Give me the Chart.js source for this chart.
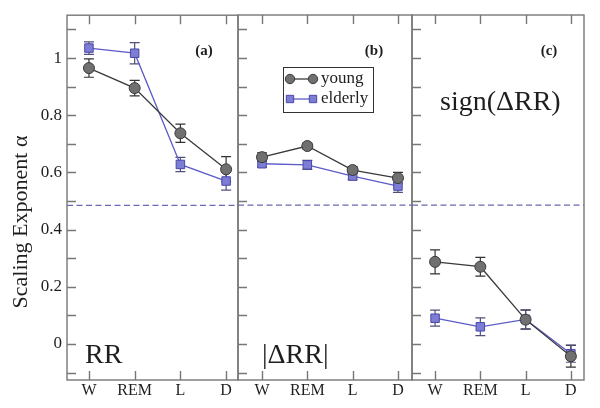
<!DOCTYPE html>
<html>
<head>
<meta charset="utf-8">
<script src="https://cdn.jsdelivr.net/npm/chart.js@4.4.1/dist/chart.umd.min.js"></script>
<style>
  html, body { margin: 0; padding: 0; background: #fff; }
  #wrap { position: relative; width: 600px; height: 408px; }
  #wrap canvas { position: absolute; left: 0; top: 0; }
</style>
</head>
<body>
<div id="wrap">
  <canvas id="panelA" width="600" height="408"></canvas>
  <canvas id="panelB" width="600" height="408"></canvas>
  <canvas id="panelC" width="600" height="408"></canvas>
</div>
<script>
/* ── Datos ─────────────────────────────── */
const categories = ['W', 'REM', 'L', 'D'];

const youngRR        = [0.965, 0.895, 0.737, 0.611];
const youngRRErr     = [0.032, 0.027, 0.032, 0.044];
const elderlyRR      = [1.035, 1.017, 0.628, 0.570];
const elderlyRRErr   = [0.022, 0.037, 0.025, 0.032];

const youngAbs       = [0.653, 0.692, 0.608, 0.580];
const youngAbsErr    = [0.015, 0.010, 0.012, 0.020];
const elderlyAbs     = [0.630, 0.626, 0.587, 0.552];
const elderlyAbsErr  = [0.012, 0.016, 0.013, 0.022];

const youngSign      = [0.287, 0.270, 0.085, -0.043];
const youngSignErr   = [0.042, 0.033, 0.033, 0.038];
const elderlySign    = [0.090, 0.060, 0.086, -0.034];
const elderlySignErr = [0.028, 0.031, 0.033, 0.030];

const yTicks      = [0, 0.2, 0.4, 0.6, 0.8, 1];
const yMinorTicks = [-0.1, 0, 0.1, 0.2, 0.3, 0.4, 0.5, 0.6, 0.7, 0.8, 0.9, 1.0, 1.1];
const dashLevel   = 0.485;

/* ── Estilo ─────────── */
const SERIF       = "'Liberation Serif', 'DejaVu Serif', serif";
const FRAME       = '#777';
const TEXT        = '#1e1e1e';
const YOUNG_LINE  = '#3a3a3a';
const YOUNG_FILL  = '#707070';
const YOUNG_EDGE  = '#3a3a3a';
const OLD_LINE    = '#5b5bc8';
const OLD_FILL    = '#7d7dd6';
const OLD_EDGE    = '#4848a8';
const DASH_COLOR  = '#6868b4';
const Y_MIN = -0.126, Y_MAX = 1.150;

const pts = arr => arr.map((v, i) => ({ x: i, y: v }));

/* marco, marcas interiores y barras de error */
const framePlugin = {
  id: 'frame',
  beforeDatasetsDraw(chart) {
    const { ctx, chartArea: a, scales: { x, y } } = chart;
    ctx.save();
    ctx.strokeStyle = FRAME;
    ctx.lineWidth = 1.4;
    ctx.strokeRect(a.left, a.top, a.right - a.left, a.bottom - a.top);
    ctx.beginPath();
    yMinorTicks.forEach(v => {
      const py = Math.round(y.getPixelForValue(v)) + 0.5;
      ctx.moveTo(a.left, py); ctx.lineTo(a.left + 9, py);
    });
    categories.forEach((c, i) => {
      const px = Math.round(x.getPixelForValue(i)) + 0.5;
      ctx.moveTo(px, a.bottom); ctx.lineTo(px, a.bottom - 9);
      ctx.moveTo(px, a.top);    ctx.lineTo(px, a.top + 9);
    });
    ctx.stroke();

    // barras de error
    chart.data.datasets.forEach((ds, di) => {
      if (!ds.errors) return;
      const meta = chart.getDatasetMeta(di);
      ctx.strokeStyle = ds.errColor;
      ctx.lineWidth = 1.2;
      ctx.beginPath();
      meta.data.forEach((pt, i) => {
        const v = ds.data[i].y, e = ds.errors[i];
        const y1 = y.getPixelForValue(v + e), y2 = y.getPixelForValue(v - e);
        ctx.moveTo(pt.x, y1); ctx.lineTo(pt.x, y2);
        ctx.moveTo(pt.x - 5, y1); ctx.lineTo(pt.x + 5, y1);
        ctx.moveTo(pt.x - 5, y2); ctx.lineTo(pt.x + 5, y2);
      });
      ctx.stroke();
    });
    ctx.restore();
  },
  afterDraw(chart) {
    const { ctx, chartArea: a } = chart;
    const t = chart.options.plugins.frame;
    ctx.save();
    ctx.fillStyle = TEXT;
    ctx.textBaseline = 'middle';
    ctx.textAlign = 'center';
    ctx.font = 'bold 15px ' + SERIF;
    ctx.fillText(t.tag, a.left + t.tagX, a.top + 36);
    ctx.textAlign = 'left';
    ctx.textBaseline = 'alphabetic';
    ctx.font = '28px ' + SERIF;
    ctx.fillText(t.name, a.left + t.nameX, t.nameY);
    if (t.yTitle) {
      ctx.translate(21, 222);
      ctx.rotate(-Math.PI / 2);
      ctx.textAlign = 'center';
      ctx.textBaseline = 'middle';
      ctx.font = '22px ' + SERIF;
      ctx.fillText(t.yTitle, 0, 0);
    }
    ctx.restore();
  }
};

/* leyenda del panel (b) */
const legendPlugin = {
  id: 'boxLegend',
  afterDraw(chart) {
    const { ctx } = chart;
    const entries = chart.data.datasets.filter(d => d.legend);
    const bx = 283, by = 67, bw = 90, bh = 45;
    ctx.save();
    ctx.fillStyle = '#fff';
    ctx.fillRect(bx, by, bw, bh);
    ctx.strokeStyle = '#333';
    ctx.lineWidth = 1;
    ctx.strokeRect(bx + 0.5, by + 0.5, bw, bh);
    entries.forEach((d, i) => {
      const cy = by + 12 + i * 20;
      ctx.strokeStyle = d.borderColor;
      ctx.lineWidth = 1.3;
      ctx.beginPath(); ctx.moveTo(290, cy); ctx.lineTo(313, cy); ctx.stroke();
      [290, 313].forEach(px => {
        ctx.fillStyle = d.pointBackgroundColor;
        ctx.strokeStyle = d.pointBorderColor;
        ctx.lineWidth = 1;
        Chart.helpers.drawPoint(ctx, {
          pointStyle: d.pointStyle, radius: d.pointRadius - 0.8, borderWidth: 1
        }, px, cy);
      });
      ctx.fillStyle = TEXT;
      ctx.font = '17px ' + SERIF;
      ctx.textBaseline = 'middle';
      ctx.textAlign = 'left';
      ctx.fillText(d.label, 321, cy);
    });
    ctx.restore();
  }
};

function makePanel(id, cfg) {
  const datasets = [
    {
      label: 'young', legend: true,
      data: pts(cfg.young), errors: cfg.youngErr, errColor: '#333',
      borderColor: YOUNG_LINE, borderWidth: 1.3,
      pointStyle: 'circle', pointRadius: 5.5,
      pointBackgroundColor: YOUNG_FILL, pointBorderColor: YOUNG_EDGE, pointBorderWidth: 1
    },
    {
      label: 'elderly', legend: true,
      data: pts(cfg.elderly), errors: cfg.elderlyErr, errColor: '#50507a',
      borderColor: OLD_LINE, borderWidth: 1.3,
      pointStyle: 'rect', pointRadius: 6,
      pointBackgroundColor: OLD_FILL, pointBorderColor: OLD_EDGE, pointBorderWidth: 1
    },
    {
      label: 'dash',
      data: [{ x: cfg.xMin, y: dashLevel }, { x: cfg.xMax, y: dashLevel }],
      borderColor: DASH_COLOR, borderWidth: 1.3, borderDash: [6, 3.5],
      pointRadius: 0
    }
  ];
  const plugins = [framePlugin];
  if (cfg.legend) plugins.push(legendPlugin);

  return new Chart(document.getElementById(id), {
    type: 'line',
    data: { datasets },
    plugins,
    options: {
      responsive: false,
      animation: false,
      events: [],
      layout: { padding: { left: cfg.padLeft, right: cfg.padRight, top: 15, bottom: 0 } },
      plugins: {
        legend: { display: false },
        tooltip: { enabled: false },
        frame: { tag: cfg.tag, tagX: cfg.tagX, name: cfg.name, nameX: cfg.nameX, nameY: cfg.nameY, yTitle: cfg.yTitle }
      },
      scales: {
        x: {
          type: 'linear', min: cfg.xMin, max: cfg.xMax,
          grid: { display: false, drawTicks: false },
          border: { display: false },
          afterBuildTicks: s => { s.ticks = categories.map((c, i) => ({ value: i })); },
          afterFit: s => { s.height = 28; },
          ticks: {
            padding: 1, color: TEXT, maxRotation: 0, autoSkip: false,
            font: { family: SERIF, size: 16 },
            callback: v => categories[v]
          }
        },
        y: {
          type: 'linear', min: Y_MIN, max: Y_MAX, display: cfg.showY,
          grid: { display: false, drawTicks: false },
          border: { display: false },
          afterBuildTicks: s => { s.ticks = yTicks.map(v => ({ value: v })); },
          afterFit: s => { s.width = cfg.showY ? 67 : 0; },
          ticks: {
            padding: 5, color: TEXT,
            font: { family: SERIF, size: 17 },
            callback: v => String(v)
          }
        }
      }
    }
  });
}

makePanel('panelA', {
  young: youngRR, youngErr: youngRRErr, elderly: elderlyRR, elderlyErr: elderlyRRErr,
  xMin: -0.48, xMax: 3.26, padLeft: 0, padRight: 362, showY: true,
  tag: '(a)', tagX: 137, name: 'RR', nameX: 18, nameY: 363,
  yTitle: 'Scaling Exponent α'
});
makePanel('panelB', {
  young: youngAbs, youngErr: youngAbsErr, elderly: elderlyAbs, elderlyErr: elderlyAbsErr,
  xMin: -0.53, xMax: 3.31, padLeft: 238, padRight: 188, showY: false, legend: true,
  tag: '(b)', tagX: 136, name: '|ΔRR|', nameX: 24, nameY: 363
});
makePanel('panelC', {
  young: youngSign, youngErr: youngSignErr, elderly: elderlySign, elderlyErr: elderlySignErr,
  xMin: -0.51, xMax: 3.29, padLeft: 412, padRight: 16, showY: false,
  tag: '(c)', tagX: 137, name: 'sign(ΔRR)', nameX: 28, nameY: 110
});
</script>
</body>
</html>
